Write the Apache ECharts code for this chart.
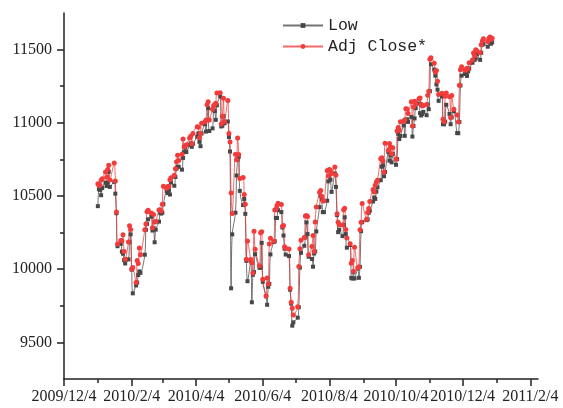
<!DOCTYPE html>
<html>
<head>
<meta charset="utf-8">
<script src="https://cdn.jsdelivr.net/npm/echarts@6/dist/echarts.min.js"></script>
<style>html,body{margin:0;padding:0;background:#fff}#c{width:563px;height:408px}</style>
</head>
<body>
<div id="c"></div>
<script>
const dates = [
'2010-01-04','2010-01-05','2010-01-06','2010-01-07','2010-01-08','2010-01-11','2010-01-12','2010-01-13','2010-01-14','2010-01-15','2010-01-19','2010-01-20','2010-01-21','2010-01-22','2010-01-25','2010-01-26','2010-01-27','2010-01-28','2010-01-29',
'2010-02-01','2010-02-02','2010-02-03','2010-02-04','2010-02-05','2010-02-08','2010-02-09','2010-02-10','2010-02-11','2010-02-12','2010-02-16','2010-02-17','2010-02-18','2010-02-19','2010-02-22','2010-02-23','2010-02-24','2010-02-25','2010-02-26',
'2010-03-01','2010-03-02','2010-03-03','2010-03-04','2010-03-05','2010-03-08','2010-03-09','2010-03-10','2010-03-11','2010-03-12','2010-03-15','2010-03-16','2010-03-17','2010-03-18','2010-03-19','2010-03-22','2010-03-23','2010-03-24','2010-03-25','2010-03-26','2010-03-29','2010-03-30','2010-03-31',
'2010-04-01','2010-04-05','2010-04-06','2010-04-07','2010-04-08','2010-04-09','2010-04-12','2010-04-13','2010-04-14','2010-04-15','2010-04-16','2010-04-19','2010-04-20','2010-04-21','2010-04-22','2010-04-23','2010-04-26','2010-04-27','2010-04-28','2010-04-29','2010-04-30',
'2010-05-03','2010-05-04','2010-05-05','2010-05-06','2010-05-07','2010-05-10','2010-05-11','2010-05-12','2010-05-13','2010-05-14','2010-05-17','2010-05-18','2010-05-19','2010-05-20','2010-05-21','2010-05-24','2010-05-25','2010-05-26','2010-05-27','2010-05-28',
'2010-06-01','2010-06-02','2010-06-03','2010-06-04','2010-06-07','2010-06-08','2010-06-09','2010-06-10','2010-06-11','2010-06-14','2010-06-15','2010-06-16','2010-06-17','2010-06-18','2010-06-21','2010-06-22','2010-06-23','2010-06-24','2010-06-25','2010-06-28','2010-06-29','2010-06-30',
'2010-07-01','2010-07-02','2010-07-06','2010-07-07','2010-07-08','2010-07-09','2010-07-12','2010-07-13','2010-07-14','2010-07-15','2010-07-16','2010-07-19','2010-07-20','2010-07-21','2010-07-22','2010-07-23','2010-07-26','2010-07-27','2010-07-28','2010-07-29','2010-07-30',
'2010-08-02','2010-08-03','2010-08-04','2010-08-05','2010-08-06','2010-08-09','2010-08-10','2010-08-11','2010-08-12','2010-08-13','2010-08-16','2010-08-17','2010-08-18','2010-08-19','2010-08-20','2010-08-23','2010-08-24','2010-08-25','2010-08-26','2010-08-27','2010-08-30','2010-08-31',
'2010-09-01','2010-09-02','2010-09-03','2010-09-07','2010-09-08','2010-09-09','2010-09-10','2010-09-13','2010-09-14','2010-09-15','2010-09-16','2010-09-17','2010-09-20','2010-09-21','2010-09-22','2010-09-23','2010-09-24','2010-09-27','2010-09-28','2010-09-29','2010-09-30',
'2010-10-01','2010-10-04','2010-10-05','2010-10-06','2010-10-07','2010-10-08','2010-10-11','2010-10-12','2010-10-13','2010-10-14','2010-10-15','2010-10-18','2010-10-19','2010-10-20','2010-10-21','2010-10-22','2010-10-25','2010-10-26','2010-10-27','2010-10-28','2010-10-29',
'2010-11-01','2010-11-02','2010-11-03','2010-11-04','2010-11-05','2010-11-08','2010-11-09','2010-11-10','2010-11-11','2010-11-12','2010-11-15','2010-11-16','2010-11-17','2010-11-18','2010-11-19','2010-11-22','2010-11-23','2010-11-24','2010-11-26','2010-11-29','2010-11-30',
'2010-12-01','2010-12-02','2010-12-03','2010-12-06','2010-12-07','2010-12-08','2010-12-09','2010-12-10','2010-12-13','2010-12-14','2010-12-15','2010-12-16','2010-12-17','2010-12-20','2010-12-21','2010-12-22','2010-12-23','2010-12-27','2010-12-28','2010-12-29','2010-12-30','2010-12-31'
];
const low = [
10430.69,10546.55,10541.63,10505.21,10554.33,10591.73,10568.43,10591.87,10666.10,10561.91,10596.68,10516,10382,10157,10172.74,10120,10106,10062,10039,
10067,10185,10238,9997,9835.09,9889,9909,9960,9985,9975,10099,10269,10309,10341,10359,10264,10282,10184,10270,
10325,10386,10380,10386,10444,10535,10520,10538,10510,10592,10570,10630,10686,10700,10700,10680,10760,10800,10830,10800,10850,10860,10836,
10856,10905,10928,10870,10840,10927,10990,10940,11019,11100,10944,10962,11090,11080,11020,11120,11180,10975,10980,11045,10997,
11009,10903,10804,9869.62,10238,10386,10640,10748,10768,10535,10438,10480,10378,10057,9918,10055,9774,9962,9980,10103,
10009,10012,10180,9914,9815,9757,9880,9900,10101,10185,10191,10350,10350,10403,10390,10285,10230,10140,10100,10090,9860,9765,
9614.32,9637,9669,9740,10011,10112,10160,10217,10320,10240,10085,10070,10017,10107,10121,10258,10424,10500,10480,10390,10390,
10468,10600,10636,10611,10528,10654,10562,10370,10253,10270,10226,10302,10355,10240,10147,10165,9941,9936,9980,9936.62,10005,9941,
10016,10260,10321,10335,10340,10385,10400,10463,10490,10480,10530,10560,10608,10700,10710,10635,10664,10800,10741,10778,10730,
10788,10713,10752,10925,10889,10910,10982,10911,11020,11024,11006,11040,10906,10978,11030,11100,11132,11066,11050,11060,11075,
11052,11125,11093,11216,11400,11363,11322,11262,11226,11150,11180,10991,10990,11008,11123,11060,10990,11037,11080,10930,10929,
11006,11255,11322,11333,11344,11320,11350,11370,11410,11428,11430,11440,11470,11430,11478,11533,11540,11520,11555,11570,11540,11550
];
const adjClose = [
10583.96,10572.02,10573.68,10606.86,10618.19,10663.99,10627.26,10680.77,10710.55,10609.65,10725.43,10603.15,10389.88,10172.98,10196.86,10194.29,10236.16,10120.46,10067.33,
10185.53,10296.85,10270.55,10002.18,10012.23,9908.39,10058.64,10038.38,10144.19,10099.14,10268.81,10309.24,10392.90,10402.35,10383.38,10282.41,10374.16,10321.03,10325.26,
10403.79,10405.98,10396.76,10444.14,10566.20,10552.52,10564.38,10567.33,10611.84,10624.69,10642.15,10685.98,10733.67,10779.17,10741.98,10785.89,10888.83,10836.15,10841.21,10850.36,10895.86,10907.42,10856.63,
10927.07,10973.55,10969.99,10897.52,10927.07,10997.35,11005.97,11019.42,11123.11,11144.57,11018.66,11092.05,11117.06,11124.92,11134.29,11204.28,11205.03,10991.99,11045.27,11167.32,11008.61,
11151.83,10926.77,10868.12,10520.32,10380.43,10785.14,10748.26,10896.91,10782.95,10620.16,10625.83,10510.95,10444.37,10068.01,10193.39,10066.57,10043.75,9974.45,10258.99,10136.63,
10024.02,10249.54,10255.28,9931.97,9816.49,9939.98,9899.25,10172.53,10211.07,10190.89,10404.77,10409.46,10434.17,10450.64,10442.41,10293.52,10298.44,10152.80,10143.81,10138.52,9870.30,9774.02,
9732.53,9686.48,9743.62,10018.28,10138.99,10198.03,10216.27,10363.02,10366.72,10359.31,10097.90,10154.43,10229.96,10120.53,10322.30,10424.62,10525.43,10537.69,10497.88,10467.16,10465.94,
10674.38,10636.38,10680.43,10674.98,10653.56,10698.75,10644.25,10378.83,10319.95,10303.15,10302.01,10405.85,10415.54,10271.21,10213.62,10174.41,10040.45,10060.06,9985.81,10150.65,10009.73,10014.72,
10269.47,10320.10,10447.93,10340.69,10387.01,10415.24,10462.77,10544.13,10526.49,10572.73,10594.83,10607.85,10753.62,10761.03,10739.31,10662.42,10860.26,10812.04,10858.14,10835.28,10788.05,
10829.68,10751.27,10944.72,10967.65,10948.58,11006.48,11010.34,11020.40,11096.08,11094.57,11062.78,11143.69,10978.62,11107.97,11146.57,11132.56,11164.05,11169.46,11126.28,11113.95,11118.49,
11124.62,11188.72,11215.13,11434.84,11444.08,11406.84,11346.75,11357.04,11283.10,11192.58,11201.97,11023.50,11007.88,11181.23,11203.55,11178.58,11036.37,11187.28,11092.00,11052.49,11006.02,
11255.78,11362.41,11382.09,11362.19,11359.16,11372.48,11370.06,11410.32,11428.56,11476.54,11457.47,11499.25,11491.91,11478.13,11533.16,11559.49,11573.49,11555.03,11575.54,11585.38,11569.71,11577.51
];
const xTickDates = ['2009-12-04','2010-02-04','2010-04-04','2010-06-04','2010-08-04','2010-10-04','2010-12-04','2011-02-04'];
const xMinorDates = ['2010-01-04','2010-03-04','2010-05-04','2010-07-04','2010-09-04','2010-11-04','2011-01-04'];
const xRange = ['2009-12-04','2011-02-11'];
const yTicks = [9500,10000,10500,11000,11500];
const yMinor = [9750,10250,10750,11250];
const yRange = [9250,11750];

function ts(s){const p=s.split('-').map(Number);return Date.UTC(p[0],p[1]-1,p[2]);}
function fmt(v){const d=new Date(v);return d.getUTCFullYear()+'/'+(d.getUTCMonth()+1)+'/'+d.getUTCDate();}

const lowData = dates.map((d,i)=>[ts(d),low[i]]);
const closeData = dates.map((d,i)=>[ts(d),adjClose[i]]);

const axisColor = '#222';
const labelFont = {fontFamily:'Liberation Serif',fontSize:16,color:'#222'};
const chart = echarts.init(document.getElementById('c'));
chart.setOption({
  animation:false,
  backgroundColor:'#fff',
  grid:{left:64,right:25,top:13,bottom:29,containLabel:false},
  legend:{
    orient:'vertical',left:277,top:12,itemWidth:40,itemHeight:6,itemGap:4,
    textStyle:{fontFamily:'Liberation Mono',fontSize:16.5,color:'#222',lineHeight:16},
    data:['Low','Adj Close*']
  },
  xAxis:[{
    type:'value',position:'bottom',min:ts(xRange[0]),max:ts(xRange[1]),
    axisLine:{show:true,lineStyle:{color:axisColor,width:1.5}},
    axisTick:{show:true,length:7,inside:false,customValues:xTickDates.map(ts),lineStyle:{color:axisColor,width:1.5}},
    axisLabel:{show:true,margin:10,customValues:xTickDates.map(ts),formatter:fmt,...labelFont},
    splitLine:{show:false}
  },{
    type:'value',position:'bottom',min:ts(xRange[0]),max:ts(xRange[1]),
    axisLine:{show:false},
    axisTick:{show:true,length:4,customValues:xMinorDates.map(ts),lineStyle:{color:axisColor,width:1.5}},
    axisLabel:{show:false},splitLine:{show:false}
  }],
  yAxis:[{
    type:'value',position:'left',min:yRange[0],max:yRange[1],
    axisLine:{show:true,lineStyle:{color:axisColor,width:1.5}},
    axisTick:{show:true,length:7,customValues:yTicks,lineStyle:{color:axisColor,width:1.5}},
    axisLabel:{show:true,margin:12,customValues:yTicks,formatter:v=>String(v),...labelFont},
    splitLine:{show:false}
  },{
    type:'value',position:'left',min:yRange[0],max:yRange[1],
    axisLine:{show:false},
    axisTick:{show:true,length:4,customValues:yMinor,lineStyle:{color:axisColor,width:1.5}},
    axisLabel:{show:false},splitLine:{show:false}
  }],
  series:[{
    name:'Low',type:'line',xAxisIndex:0,yAxisIndex:0,data:lowData,
    smooth:0.3,symbol:'rect',symbolSize:4,showAllSymbol:true,
    itemStyle:{color:'#474747'},
    lineStyle:{color:'rgba(70,70,70,0.75)',width:1}
  },{
    name:'Adj Close*',type:'line',xAxisIndex:0,yAxisIndex:0,data:closeData,
    smooth:0.3,symbol:'circle',symbolSize:5,showAllSymbol:true,
    itemStyle:{color:'#f23b3b'},
    lineStyle:{color:'rgba(240,55,55,0.75)',width:1}
  }]
});
</script>
</body>
</html>
